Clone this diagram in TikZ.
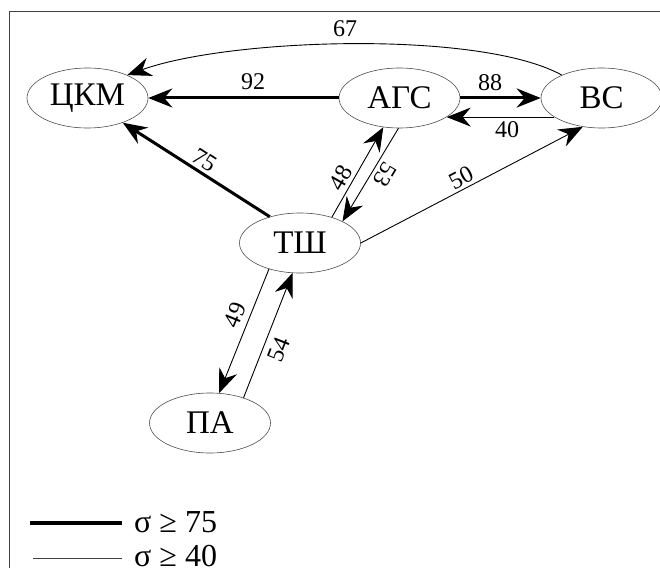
\documentclass[tikz,border=0pt]{standalone}
\usepackage{fontspec}
\setmainfont{Liberation Serif}
\usetikzlibrary{arrows.meta,shapes.geometric}
\begin{document}
\begin{tikzpicture}[x=1pt,y=-1pt,
  vert/.style={ellipse,draw=black!70,line width=0.6pt,minimum width=121pt,minimum height=60pt,inner sep=0pt,font=\fontsize{33}{35}\selectfont},
  tip/.style={-{Stealth[length=24pt,width=19pt,inset=8pt]}},
  thk/.style={tip,line width=3pt},
  thn/.style={tip,line width=0.9pt},
  lab/.style={font=\fontsize{24}{26}\selectfont,inner sep=0pt},
  legtext/.style={font=\fontsize{32}{34}\selectfont,inner sep=0pt,anchor=base west}]
\useasboundingbox (0,0) rectangle (660,567);
\draw[black!75,line width=1pt] (9,568) -- (9,12) -- (661,12);

\node[vert] (ckm) at (87.5,98) {ЦКМ};
\node[vert] (agc) at (399.5,98) {АГС};
\node[vert] (vs) at (601.5,98) {ВС};
\node[vert] (tsh) at (300,243) {ТШ};
\node[vert] (pa) at (210,423) {ПА};

\draw[thk] (agc.180) -- (ckm.0);
\draw[thk] (agc.0) -- (vs.180);
\draw[thn] (vs.202) -- (agc.338);
\draw[thn] (vs.150) .. controls (480,30) and (230,38) .. (ckm.30);
\draw[thk] (tsh.139) -- (ckm.325);
\draw[thn] (tsh.39) -- (agc.241);
\draw[thn] (agc.268) -- (tsh.27);
\draw[thn] (tsh.0) -- (vs.237);
\draw[thn] (tsh.220) -- (pa.73);
\draw[thn] (pa.37) -- (tsh.256);

\node[lab] (l92) at (253,82) {92};
\node[lab] (l88) at (490,83) {88};
\node[lab] (l40) at (507,130) {40};
\node[lab] (l67) at (345,29) {67};
\node[lab,rotate=-32.6] (l75) at (205,160) {75};
\node[lab,rotate=60] (l48) at (341,178) {48};
\node[lab,rotate=-121] (l53) at (385,175) {53};
\node[lab,rotate=27.7] (l50) at (461,178) {50};
\node[lab,rotate=68] (l49) at (235,315) {49};
\node[lab,rotate=69] (l54) at (279,350) {54};

\coordinate (ga) at (30,523);
\coordinate (gb) at (122,523);
\coordinate (gc) at (33,558);
\coordinate (gd) at (122,558);
\draw[line width=4pt] (ga) -- (gb);
\draw[black!75,line width=1pt] (gc) -- (gd);
\node[legtext] (s75) at (134,532) {σ ≥ 75};
\node[legtext] (s40) at (134,566) {σ ≥ 40};
\end{tikzpicture}
\end{document}
